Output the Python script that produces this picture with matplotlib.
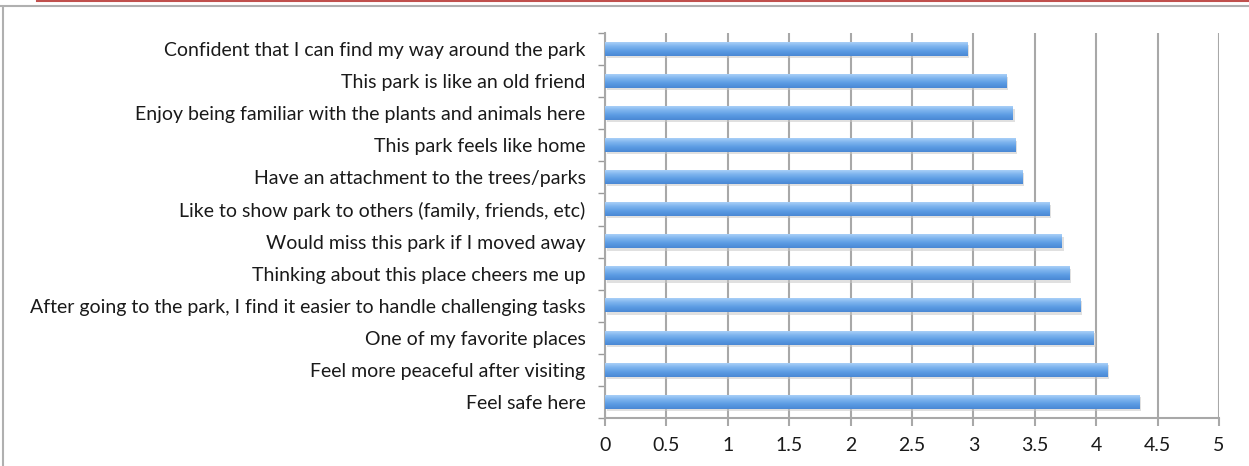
import matplotlib
matplotlib.use("Agg")
import matplotlib.pyplot as plt
from matplotlib.lines import Line2D
from matplotlib.colors import LinearSegmentedColormap
import numpy as np

categories = [
    "Confident that I can find my way around the park",
    "This park is like an old friend",
    "Enjoy being familiar with the plants and animals here",
    "This park feels like home",
    "Have an attachment to the trees/parks",
    "Like to show park to others (family, friends, etc)",
    "Would miss this park if I moved away",
    "Thinking about this place cheers me up",
    "After going to the park, I find it easier to handle challenging tasks",
    "One of my favorite places",
    "Feel more peaceful after visiting",
    "Feel safe here",
]
values = [2.95, 3.27, 3.32, 3.34, 3.40, 3.62, 3.72, 3.78, 3.87, 3.98, 4.09, 4.35]
xticks = [0, 0.5, 1, 1.5, 2, 2.5, 3, 3.5, 4, 4.5, 5]
xticklabels = ["0", "0.5", "1", "1.5", "2", "2.5", "3", "3.5", "4", "4.5", "5"]

plt.rcParams['font.family'] = ['Lato', 'DejaVu Sans']

fig = plt.figure(figsize=(12.49, 4.66), dpi=100)
ax = fig.add_axes([605/1249, 1-418/466, (1219-605)/1249, (418-33)/466])

n = len(categories)
y = np.arange(n)[::-1]  # first category at top
bh = 0.42

cmap = LinearSegmentedColormap.from_list(
    "bar", [(0.0, "#4a88d4"), (0.35, "#5b9be3"), (0.7, "#7db4ee"), (1.0, "#a9cff8")])
grad = np.linspace(0, 1, 64).reshape(-1, 1)

# shadows
ax.barh(y - 0.07, values, height=bh, left=0.015, color="#c8c8c8", alpha=0.55, zorder=2, linewidth=0)
bars = ax.barh(y, values, height=bh, color="none", zorder=3, linewidth=0)
for b in bars:
    x0, y0 = b.get_x(), b.get_y()
    w, h = b.get_width(), b.get_height()
    ax.imshow(grad, extent=[x0, x0 + w, y0, y0 + h], origin="lower",
              cmap=cmap, aspect="auto", zorder=3, interpolation="bilinear")

ax.set_xlim(0, 5)
ax.set_ylim(-0.5, n - 0.5)
ax.set_aspect("auto")
ax.set_xticks(xticks)
ax.set_xticklabels(xticklabels, fontsize=14)
ax.set_yticks(y)
ax.set_yticklabels(categories, fontsize=14)
ax.tick_params(axis='y', length=0, pad=14, colors="#1a1a1a")
ax.set_yticks(np.arange(-0.5, n, 1.0), minor=True)
ax.tick_params(axis='y', which='minor', length=5, color="#999999", width=1)

ax.grid(axis='x', color="#a8a8a8", linewidth=1.5, zorder=0)
for s in ['top', 'right']:
    ax.spines[s].set_visible(False)
for s in ['left', 'bottom']:
    ax.spines[s].set_color("#a8a8a8")
    ax.spines[s].set_linewidth(1.5)
ax.tick_params(axis='x', which='major', length=6, color="#a8a8a8", width=1.5, pad=8, labelcolor="#1a1a1a")

# page decorations
fig.add_artist(Line2D([0.03, 1], [1 - 1/466, 1 - 1/466], color="#c0504d", linewidth=1.5, transform=fig.transFigure))
fig.add_artist(Line2D([0, 1], [1 - 6/466, 1 - 6/466], color="#b0b0b0", linewidth=1.5, transform=fig.transFigure))
fig.add_artist(Line2D([3.5/1249, 3.5/1249], [0, 1 - 7/466], color="#b0b0b0", linewidth=1.5, transform=fig.transFigure))

fig.savefig("out.png", dpi=100)
